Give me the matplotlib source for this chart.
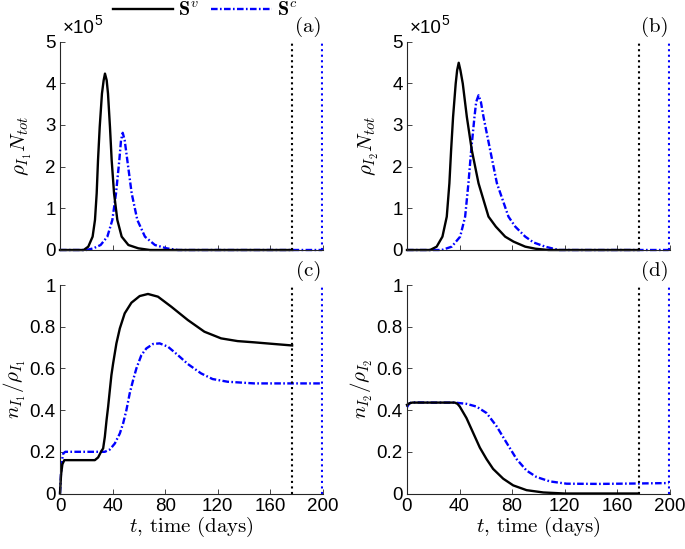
import matplotlib
matplotlib.use("Agg")
import matplotlib.pyplot as plt
from matplotlib.lines import Line2D

plt.rcParams['mathtext.fontset'] = 'cm'
plt.rcParams['font.family'] = ['Liberation Sans', 'DejaVu Sans']

# ---------------- data ----------------
# panel (a): rho_I1 * N_tot  (units of 1e5)
a_v_t = [0, 15, 18, 21.5, 24.8, 26.6, 27.9, 28.9, 30.2, 31.9, 33.2, 34.2, 35.5, 36.5, 38, 39.3, 41.1, 43.6, 46.9, 52, 59.6, 68.4, 120, 176.5]
a_v_y = [0, 0, 0, 0.08, 0.32, 0.72, 1.36, 2.15, 2.95, 3.75, 4.07, 4.23, 4.07, 3.75, 2.95, 2.15, 1.36, 0.72, 0.32, 0.12, 0.04, 0.0, 0, 0]
a_c_t = [0, 20, 25.4, 30.9, 36, 39.8, 42.6, 45.1, 46.4, 47.7, 49.2, 51.2, 54.5, 58.8, 64.6, 72.2, 81.1, 89.7, 150, 199.3]
a_c_y = [0, 0, 0.04, 0.12, 0.32, 0.72, 1.36, 2.15, 2.63, 2.81, 2.63, 2.15, 1.36, 0.72, 0.32, 0.12, 0.04, 0.0, 0, 0]

# panel (b): rho_I2 * N_tot  (units of 1e5)
b_v_t = [0, 15, 17.6, 22.6, 27, 30.3, 32.3, 33.6, 35.1, 37.1, 38.2, 39.4, 40.7, 42.5, 45.6, 49.4, 54.5, 62.1, 67.7, 74.8, 81.2, 90.1, 98, 107.9, 140, 176.5]
b_v_y = [0, 0, 0, 0.08, 0.32, 0.80, 1.60, 2.39, 3.19, 3.99, 4.31, 4.49, 4.31, 3.99, 3.19, 2.39, 1.60, 0.80, 0.56, 0.32, 0.20, 0.08, 0.03, 0.0, 0, 0]
b_c_t = [0, 20, 26.5, 34.1, 40.5, 44.3, 46.8, 48.9, 51.4, 52.7, 54.5, 56.3, 58.3, 63.4, 68.5, 77.3, 82.5, 90.1, 96.5, 105.3, 115.5, 160, 199.3]
b_c_y = [0, 0, 0, 0.08, 0.32, 0.80, 1.60, 2.39, 3.19, 3.55, 3.71, 3.55, 3.19, 2.39, 1.60, 0.80, 0.56, 0.32, 0.18, 0.08, 0.0, 0, 0]

# panel (c): n_I1 / rho_I1
c_v_t = [0, 0.8, 1.8, 3.3, 10, 20, 26.5, 29.0, 31.6, 32.8, 34.1, 35.4, 36.6, 37.9, 39.1, 40.4, 42.9, 45.5, 49.2, 54.3, 60.6, 66.9, 74.5, 84.6, 97.2, 109.8, 122.5, 135, 147.7, 162.9, 176.5]
c_v_y = [0, 0.09, 0.14, 0.16, 0.16, 0.16, 0.16, 0.173, 0.205, 0.216, 0.272, 0.352, 0.416, 0.496, 0.568, 0.624, 0.72, 0.792, 0.864, 0.915, 0.947, 0.957, 0.944, 0.896, 0.832, 0.776, 0.744, 0.731, 0.725, 0.717, 0.71]
c_c_t = [0, 0.8, 1.5, 2.5, 4, 15, 31.6, 34.1, 37.9, 41.7, 45.5, 48, 50.5, 53, 55.6, 58.1, 61.9, 65.7, 70.7, 75.8, 82.1, 89.6, 97.2, 107.3, 116, 127.5, 147.7, 175, 199.3]
c_c_y = [0, 0.10, 0.16, 0.192, 0.2, 0.2, 0.2, 0.2, 0.211, 0.24, 0.288, 0.336, 0.4, 0.48, 0.544, 0.6, 0.664, 0.696, 0.717, 0.72, 0.704, 0.664, 0.621, 0.576, 0.549, 0.536, 0.528, 0.528, 0.528]

# panel (d): n_I2 / rho_I2
d_v_t = [0, 2, 4, 20, 36.4, 38.5, 40.2, 45.3, 50.4, 55.5, 60.6, 65.6, 73.3, 80.9, 91.1, 103.8, 120, 176.5]
d_v_y = [0.425, 0.433, 0.436, 0.436, 0.436, 0.43, 0.417, 0.362, 0.291, 0.22, 0.165, 0.118, 0.071, 0.039, 0.016, 0.005, 0.0, 0.0]
d_c_t = [0, 1.5, 3.3, 20, 36.4, 45.3, 52.9, 60.6, 68.2, 75.8, 83.5, 91.1, 98.7, 108.9, 121.6, 147, 175, 199.3]
d_c_y = [0.414, 0.43, 0.437, 0.436, 0.436, 0.43, 0.417, 0.386, 0.323, 0.244, 0.165, 0.11, 0.079, 0.058, 0.047, 0.046, 0.048, 0.05]

t_end_v = 176.5
t_end_c = 199.3

xticks = [0, 40, 80, 120, 160, 200]
ticks_top = [0, 1, 2, 3, 4, 5]
ticks_bot = [0, 0.2, 0.4, 0.6, 0.8, 1]
tick_labels_bot = ['0', '0.2', '0.4', '0.6', '0.8', '1']

# ---------------- figure ----------------
W, H = 685, 549
fig = plt.figure(figsize=(W / 100, H / 100), dpi=100)

def pos(x0, x1, ytop, ybot):
    return [x0 / W, 1 - ybot / H, (x1 - x0) / W, (ybot - ytop) / H]

ax_a = fig.add_axes(pos(60, 323, 41.5, 250))
ax_b = fig.add_axes(pos(407, 669.5, 41.5, 250))
ax_c = fig.add_axes(pos(60, 323, 285, 493.5))
ax_d = fig.add_axes(pos(407, 669.5, 285, 493.5))

blue = (0, 0, 1)
lw = 1.7
dashdot = (0, (2.8, 1.0, 0.7, 1.0))
spine_col = (0.15, 0.15, 0.15)
tick_fs = 13.5
serif = 'cmr10'

def style(ax, ylim, yticks, ylabels, show_x):
    ax.set_xlim(0, 200)
    ax.set_ylim(*ylim)
    for s in ['top', 'right']:
        ax.spines[s].set_visible(False)
    for s in ['left', 'bottom']:
        ax.spines[s].set_color(spine_col)
        ax.spines[s].set_linewidth(0.8)
    ax.set_xticks(xticks)
    ax.set_yticks(yticks)
    ax.set_yticklabels(ylabels)
    ax.tick_params(direction='in', length=3.5, width=0.6, colors=spine_col,
                   labelsize=tick_fs, labelcolor='black', pad=3)
    if show_x:
        ax.set_xticklabels([str(v) for v in xticks])
        ax.set_xlabel(r'$t$, time (days)', fontsize=15, family=serif, labelpad=0)
    else:
        ax.set_xticklabels([])

def vlines(ax, top):
    ax.plot([t_end_v, t_end_v], [0, top], color='black', ls=':', lw=1.5, zorder=3)
    ax.plot([t_end_c, t_end_c], [0, top], color=blue, ls=':', lw=1.5, zorder=3)

# (a)
ax_a.plot(a_c_t, a_c_y, color=blue, lw=lw, ls=dashdot, clip_on=False)
ax_a.plot(a_v_t, a_v_y, color='black', lw=lw, clip_on=False)
vlines(ax_a, 5)
style(ax_a, (0, 5), ticks_top, [str(v) for v in ticks_top], False)
ax_a.set_ylabel(r'$\rho_{I_1}N_{tot}$', fontsize=15, labelpad=8)

# (b)
ax_b.plot(b_c_t, b_c_y, color=blue, lw=lw, ls=dashdot, clip_on=False)
ax_b.plot(b_v_t, b_v_y, color='black', lw=lw, clip_on=False)
vlines(ax_b, 5)
style(ax_b, (0, 5), ticks_top, [str(v) for v in ticks_top], False)
ax_b.set_ylabel(r'$\rho_{I_2}N_{tot}$', fontsize=15, labelpad=8)

# (c)
ax_c.plot(c_c_t, c_c_y, color=blue, lw=lw, ls=dashdot, clip_on=False)
ax_c.plot(c_v_t, c_v_y, color='black', lw=lw, clip_on=False)
vlines(ax_c, 1)
style(ax_c, (0, 1), ticks_bot, tick_labels_bot, True)
ax_c.set_ylabel(r'$n_{I_1}/\rho_{I_1}$', fontsize=15, labelpad=1)

# (d)
ax_d.plot(d_c_t, d_c_y, color=blue, lw=lw, ls=dashdot, clip_on=False)
ax_d.plot(d_v_t, d_v_y, color='black', lw=lw, clip_on=False)
vlines(ax_d, 1)
style(ax_d, (0, 1), ticks_bot, tick_labels_bot, True)
ax_d.set_ylabel(r'$n_{I_2}/\rho_{I_2}$', fontsize=15, labelpad=1)

# exponent labels
for ax in (ax_a, ax_b):
    ax.text(0.012, 1.04, '×10', transform=ax.transAxes, fontsize=tick_fs,
            ha='left', va='baseline')
    ax.text(0.132, 1.08, '5', transform=ax.transAxes, fontsize=10,
            ha='left', va='baseline')

# panel letters
for ax, lab in ((ax_a, '(a)'), (ax_b, '(b)'), (ax_c, '(c)'), (ax_d, '(d)')):
    ax.text(0.995, 1.045, lab, transform=ax.transAxes, fontsize=15,
            family=serif, ha='right', va='baseline')

# legend
handles = [Line2D([], [], color='black', lw=lw),
           Line2D([], [], color=blue, lw=lw, ls=dashdot)]
fig.legend(handles, [r'$\mathbf{S}^v$', r'$\mathbf{S}^c$'], ncol=2,
           loc='upper left', bbox_to_anchor=(113 / W, 1.0 - 1 / H),
           frameon=False, fontsize=14.5, handlelength=3.0, handletextpad=0.25,
           columnspacing=0.6, borderpad=0, borderaxespad=0)

fig.savefig('out.png', dpi=100)
